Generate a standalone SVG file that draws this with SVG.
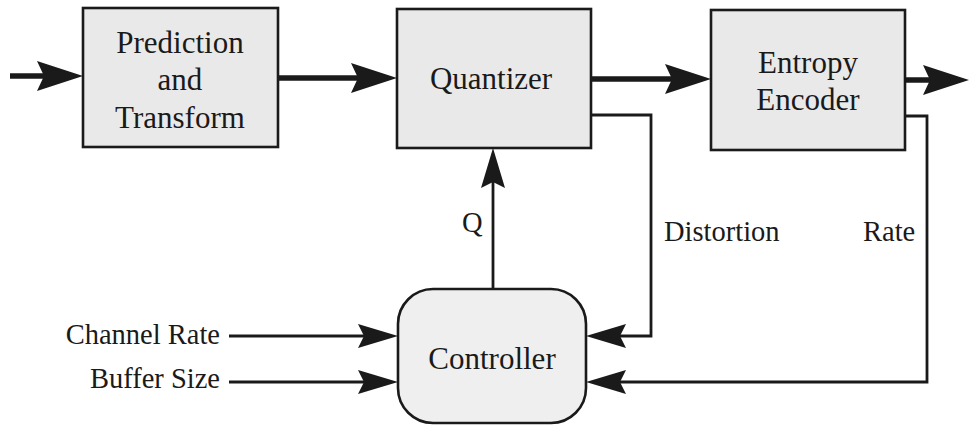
<svg xmlns="http://www.w3.org/2000/svg" width="969" height="427" viewBox="0 0 969 427">
  <style>
    .box { fill: #e9e9e9; stroke: #1a1a1a; stroke-width: 2.6; }
    .ctrl { fill: #efefef; stroke: #1a1a1a; stroke-width: 2.6; }
    .lbl { font-family: "Liberation Serif", "Times New Roman", serif; font-size: 31px; fill: #1a1a1a; }
    .side { font-family: "Liberation Serif", "Times New Roman", serif; font-size: 28.5px; fill: #1a1a1a; }
    .thick { fill: none; stroke: #1a1a1a; stroke-width: 5.5; marker-end: url(#bigArrow); }
    .thin { fill: none; stroke: #1a1a1a; stroke-width: 2.8; marker-end: url(#smallArrow); }
  </style>
  <defs>
    <marker id="bigArrow" markerUnits="userSpaceOnUse" markerWidth="50" markerHeight="34" refX="7" refY="0" orient="auto" overflow="visible">
      <path d="M0,-15 L46,0 L0,15 L7,0 Z" fill="#1a1a1a"/>
    </marker>
    <marker id="smallArrow" markerUnits="userSpaceOnUse" markerWidth="44" markerHeight="28" refX="6" refY="0" orient="auto" overflow="visible">
      <path d="M0,-12 L40,0 L0,12 L6,0 Z" fill="#1a1a1a"/>
    </marker>
  </defs>

  <g id="pred">
    <rect class="box" x="83" y="8" width="195" height="139"/>
    <text class="lbl" x="180" y="53" text-anchor="middle">Prediction</text>
    <text class="lbl" x="180" y="90" text-anchor="middle">and</text>
    <text class="lbl" x="180" y="128" text-anchor="middle">Transform</text>
  </g>
  <g id="quant">
    <rect class="box" x="397" y="9" width="194" height="139"/>
    <text class="lbl" x="491" y="89" text-anchor="middle">Quantizer</text>
  </g>
  <g id="entropy">
    <rect class="box" x="711" y="10" width="194" height="140"/>
    <text class="lbl" x="808" y="73" text-anchor="middle">Entropy</text>
    <text class="lbl" x="808" y="110" text-anchor="middle">Encoder</text>
  </g>
  <g id="controller">
    <rect class="ctrl" x="398" y="289" width="188" height="134" rx="35" ry="35"/>
    <text class="lbl" x="492" y="369" text-anchor="middle">Controller</text>
  </g>

  <g id="connectors">
    <path class="thick" d="M10,76 H44"/>
    <path class="thick" d="M278,78 H358"/>
    <path class="thick" d="M591,79 H672"/>
    <path class="thick" d="M905,80 H930"/>
    <path class="thin" d="M493,289 V182"/>
    <path class="thin" d="M591,115 H651 V336 H620"/>
    <path class="thin" d="M905,116 H927 V382 H620"/>
    <path class="thin" d="M229,336 H364"/>
    <path class="thin" d="M229,382 H364"/>
  </g>

  <g id="labels">
    <text class="side" x="462" y="232">Q</text>
    <text class="side" x="664" y="241">Distortion</text>
    <text class="side" x="863" y="241">Rate</text>
    <text class="side" x="220" y="344" text-anchor="end">Channel Rate</text>
    <text class="side" x="220" y="388" text-anchor="end">Buffer Size</text>
  </g>
</svg>
